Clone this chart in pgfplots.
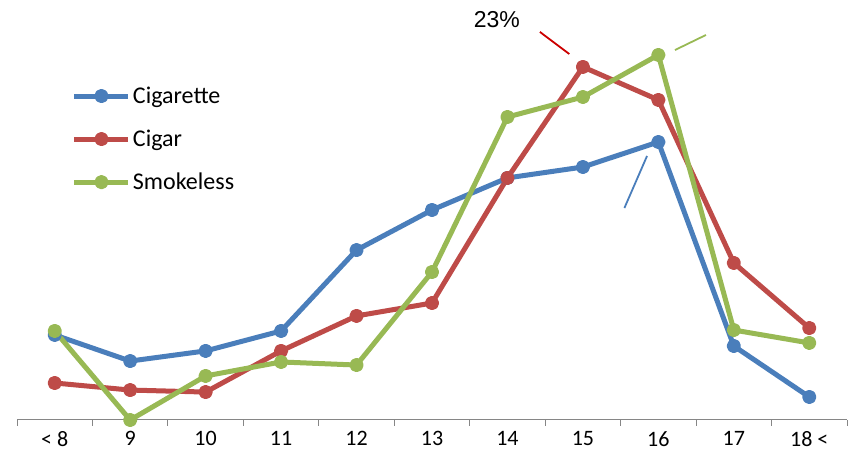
\documentclass[border=0pt]{standalone}
\usepackage{pgfplots}
\pgfplotsset{compat=1.18}
\usepackage{fontspec}
\setmainfont{Carlito}
\newfontfamily\arialfont{Liberation Sans}
\definecolor{cblue}{HTML}{4A7EBB}
\definecolor{cred}{HTML}{BE4B48}
\definecolor{cgreen}{HTML}{98B954}
\definecolor{axgray}{HTML}{868686}
\begin{document}
\begin{tikzpicture}[x=1pt,y=1pt]
\path[use as bounding box] (0,0) rectangle (852,460);
\begin{axis}[
  at={(17pt,40pt)}, anchor=south west,
  scale only axis, width=830pt, height=420pt,
  xmin=-0.5, xmax=10.5, ymin=0, ymax=27.36,
  clip=false,
  axis y line=none,
  axis x line*=bottom,
  x axis line style={draw=axgray, line width=1pt, -},
  xtick={0,...,10},
  xticklabels={{< 8},9,10,11,12,13,14,15,16,17,{18 <}},
  minor xtick={-0.5,0.5,...,10.5},
  major tick length=0pt,
  minor tick length=6pt,
  tick align=outside,
  every minor tick/.style={draw=axgray, line width=1pt},
  xticklabel style={font=\fontsize{22}{22}\selectfont, yshift=-8pt},
  legend cell align=left,
  legend style={at={(0.066,0.798)}, anchor=north west, draw=none, fill=none,
     font=\fontsize{24}{24}\selectfont, row sep=21pt, inner sep=0pt},
  legend image code/.code={\draw[mark repeat=2,mark phase=2,#1] plot coordinates {(0pt,0pt)(27pt,0pt)(54pt,0pt)};},
]
\addplot[cblue, line width=5pt, line join=round, mark=*, mark size=4.6pt, mark options={fill=cblue, draw=none}] coordinates {
(0,5.54)(1,3.84)(2,4.50)(3,5.80)(4,11.07)(5,13.68)(6,15.77)(7,16.48)(8,18.11)(9,4.82)(10,1.50)};
\addlegendentry{Cigarette}
\addplot[cred, line width=5pt, line join=round, mark=*, mark size=4.6pt, mark options={fill=cred, draw=none}] coordinates {
(0,2.41)(1,1.95)(2,1.82)(3,4.50)(4,6.78)(5,7.62)(6,15.77)(7,23.0)(8,20.85)(9,10.23)(10,5.99)};
\addlegendentry{Cigar}
\addplot[cgreen, line width=5pt, line join=round, mark=*, mark size=4.6pt, mark options={fill=cgreen, draw=none}] coordinates {
(0,5.80)(1,0)(2,2.87)(3,3.78)(4,3.58)(5,9.64)(6,19.74)(7,21.04)(8,23.78)(9,5.86)(10,5.02)};
\addlegendentry{Smokeless}
\draw[red!80!black, line width=1.8pt] (axis cs:6.43,25.28) -- (axis cs:6.82,23.84);
\draw[cgreen, line width=1.8pt] (axis cs:8.22,24.10) -- (axis cs:8.63,25.08);
\draw[cblue, line width=1.8pt] (axis cs:7.85,17.20) -- (axis cs:7.55,13.81);
\node[font=\arialfont\fontsize{23}{23}\selectfont] at (axis cs:5.86,26.06) {23\%};
\end{axis}
\end{tikzpicture}
\end{document}
